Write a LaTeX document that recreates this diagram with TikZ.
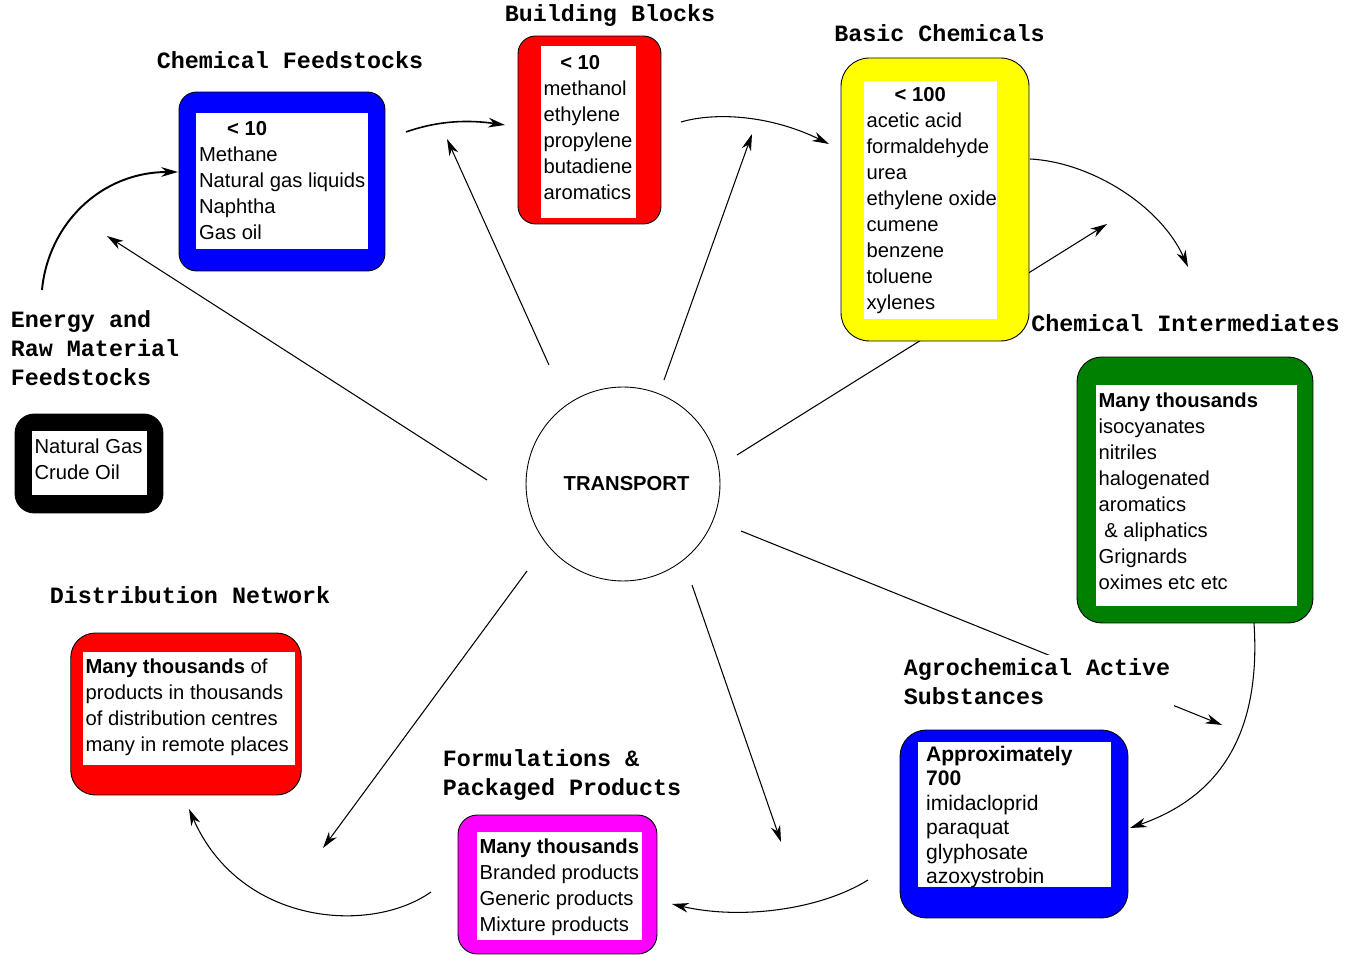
\documentclass[tikz,border=0pt]{standalone}
\usepackage{fontspec}
\setmainfont{Liberation Sans}
\newfontfamily\monofont{Liberation Mono}
\usepackage{xcolor}
\usepackage{tikz}
\usetikzlibrary{positioning, arrows.meta, backgrounds}

\definecolor{darkgreen}{RGB}{0,128,0}
\definecolor{pureblue}{RGB}{0,0,255}
\definecolor{purered}{RGB}{255,0,0}
\definecolor{pureyellow}{RGB}{255,255,0}
\definecolor{puremagenta}{RGB}{255,0,255}
\newcommand{\boxfont}{\fontsize{11.5}{14.8}\selectfont}
\newcommand{\agrofont}{\fontsize{12}{13.9}\selectfont}
\newcommand{\headfont}{\monofont\bfseries\fontsize{13.3}{16.5}\selectfont}

\begin{document}
\begin{tikzpicture}[
    x=0.02cm, y=-0.02cm,
    frame/.style={rectangle, draw=black, line width=0.5pt, inner sep=0pt},
    panel/.style={rectangle, fill=white, inner sep=0pt},
    list/.style={inner sep=1pt, align=left, anchor=west, font=\boxfont},
    heading/.style={font=\headfont, inner sep=2pt, align=left},
    arrow/.style={-{Stealth[length=9.5pt, width=5.5pt, inset=3pt]}, line width=0.6pt}
]
    \useasboundingbox (0,0) rectangle (1359,955);

    % Hub
    \node[circle, draw, line width=0.5pt, minimum size=3.88cm, inner sep=0pt,
          font=\boxfont\bfseries] (transport) at (623,484) {\hspace*{4pt}TRANSPORT};

    % Boxes
    \node[frame, fill=black, rounded corners=11pt, minimum width=2.96cm, minimum height=1.98cm] (raw) at (89,463.5) {};
    \node[panel, minimum width=2.30cm, minimum height=1.28cm] (rawpanel) at (89.5,463) {};
    \node[list] (rawlist) at (32.5,459) {Natural Gas\\Crude Oil};

    \node[frame, fill=pureblue, rounded corners=10pt, minimum width=4.12cm, minimum height=3.58cm] (feed) at (282,181.5) {};
    \node[panel, minimum width=3.44cm, minimum height=2.72cm] (feedpanel) at (282,181) {};
    \node[list] (feedlist) at (197,181) {\hspace*{16pt}\textbf{< 10}\\Methane\\Natural gas liquids\\Naphtha\\Gas oil};

    \node[frame, fill=purered, rounded corners=10pt, minimum width=2.86cm, minimum height=3.76cm] (blocks) at (589.5,130) {};
    \node[panel, minimum width=1.90cm, minimum height=3.44cm] (blockspanel) at (588.5,132) {};
    \node[list] (blockslist) at (541.5,128) {\hspace*{9.5pt}\textbf{< 10}\\methanol\\ethylene\\propylene\\butadiene\\aromatics};

    \node[frame, fill=pureyellow, rounded corners=16pt, minimum width=3.76cm, minimum height=5.66cm] (basic) at (935,199.5) {};
    \node[panel, minimum width=2.66cm, minimum height=4.76cm] (basicpanel) at (930.5,200) {};
    \node[list] (basiclist) at (864.5,201) {\hspace*{16pt}\textbf{< 100}\\acetic acid\\formaldehyde\\urea\\ethylene oxide\\cumene\\benzene\\toluene\\xylenes};

    \node[frame, fill=darkgreen, rounded corners=14pt, minimum width=4.72cm, minimum height=5.32cm] (inter) at (1195,490) {};
    \node[panel, minimum width=4.02cm, minimum height=4.42cm] (interpanel) at (1196.5,495.5) {};
    \node[list] (interlist) at (1096.5,491.5) {\textbf{Many thousands}\\isocyanates\\nitriles\\halogenated\\aromatics\\\hspace*{3.3pt}\& aliphatics\\Grignards\\oximes etc etc};

    \node[frame, fill=pureblue, rounded corners=15pt, minimum width=4.56cm, minimum height=3.76cm] (agro) at (1014,824) {};
    \node[panel, minimum width=3.86cm, minimum height=2.90cm] (agropanel) at (1014.5,814.5) {};
    \node[list, font=\agrofont] (agrolist) at (924,817) {\textbf{Approximately}\\\textbf{700}\\imidacloprid\\paraquat\\glyphosate\\azoxystrobin};

    \node[frame, fill=puremagenta, rounded corners=11pt, minimum width=3.98cm, minimum height=2.78cm] (form) at (557.5,884.5) {};
    \node[panel, minimum width=3.30cm, minimum height=2.16cm] (formpanel) at (559.5,886) {};
    \node[list] (formlist) at (477.5,887) {\textbf{Many thousands}\\Branded products\\Generic products\\Mixture products};

    \node[frame, fill=purered, rounded corners=14pt, minimum width=4.61cm, minimum height=3.24cm] (distr) at (186,714) {};
    \node[panel, minimum width=4.24cm, minimum height=2.26cm] (distrpanel) at (189,708.5) {};
    \node[list] (distrlist) at (83.5,707.5) {\textbf{Many thousands} of\\products in thousands\\of distribution centres\\many in remote places};

    % Headings
    \node[heading, anchor=west] (rawhead) at (7,348) {Energy and\\Raw Material\\Feedstocks};
    \node[heading] (feedhead) at (290,60) {Chemical Feedstocks};
    \node[heading] (blockshead) at (610,16) {Building Blocks};
    \node[heading] (basichead) at (939.5,33) {Basic Chemicals};
    \node[heading] (interhead) at (1185.5,323) {Chemical Intermediates};
    \node[heading, anchor=west, fill=white] (agrohead) at (900,682) {Agrochemical Active\\Substances};
    \node[heading, anchor=west] (formhead) at (439,775.5) {Formulations \&\\Packaged Products};
    \node[heading] (distrhead) at (190,595) {Distribution Network};

    % Ends of the links
    \coordinate (rawout) at (42,290);
    \coordinate (feedin) at (178,172);
    \coordinate (feedout) at (406,132);
    \coordinate (blocksin) at (505,125);
    \coordinate (blocksout) at (681,122);
    \coordinate (basicin) at (829,144);
    \coordinate (basicout) at (1030,159);
    \coordinate (interin) at (1188,267);
    \coordinate (interout) at (1254,623);
    \coordinate (agroin) at (1130,828);
    \coordinate (agroout) at (868,880);
    \coordinate (formin) at (672,904);
    \coordinate (formout) at (431,892);
    \coordinate (distrin) at (189,809);

    % Links along the chain
    \draw[arrow, line width=1.1pt] (rawout) .. controls (48,225) and (100,172) .. (feedin);
    \draw[arrow, line width=0.9pt] (feedout) .. controls (440,120) and (470,120) .. (blocksin);
    \draw[arrow] (blocksout) .. controls (715,112) and (770,115) .. (basicin);
    \draw[arrow] (basicout) .. controls (1090,162) and (1160,205) .. (interin);
    \draw[arrow] (interout) .. controls (1262,745) and (1210,800) .. (agroin);
    \draw[arrow] (agroout) .. controls (820,910) and (740,920) .. (formin);
    \draw[arrow] (formout) .. controls (370,935) and (240,925) .. (distrin);

    % Transport spokes
    \coordinate (s1) at (487,480);  \coordinate (e1) at (107,236);
    \coordinate (s2) at (549,365);  \coordinate (e2) at (447,139);
    \coordinate (s3) at (664,380);  \coordinate (e3) at (752,134);
    \coordinate (s4) at (737,455);  \coordinate (e4) at (1107,224);
    \coordinate (s5) at (741,531);  \coordinate (e5) at (1222,725);
    \coordinate (s6) at (692,585);  \coordinate (e6) at (781,842);
    \coordinate (s7) at (527,571);  \coordinate (e7) at (323,848);
    \begin{scope}[on background layer]
        \draw[arrow] (s1) -- (e1);
        \draw[arrow] (s2) -- (e2);
        \draw[arrow] (s3) -- (e3);
        \draw[arrow] (s4) -- (e4);
        \draw[arrow] (s5) -- (e5);
        \draw[arrow] (s6) -- (e6);
        \draw[arrow] (s7) -- (e7);
    \end{scope}
\end{tikzpicture}
\end{document}
